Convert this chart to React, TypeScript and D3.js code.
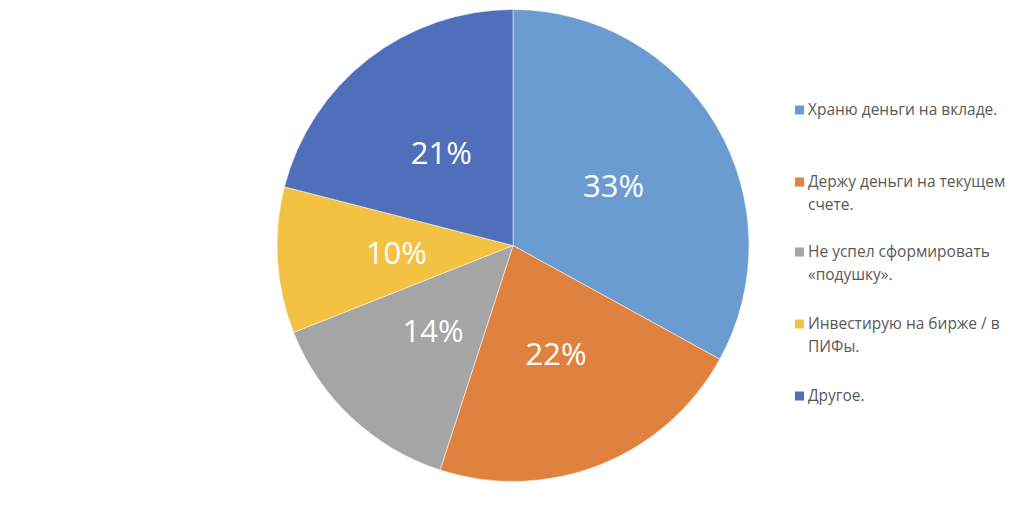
import React from "react";
import * as d3 from "d3";

const categories = [
  "Храню деньги на вкладе.",
  "Держу деньги на текущем счете.",
  "Не успел сформировать «подушку».",
  "Инвестирую на бирже / в ПИФы.",
  "Другое.",
];
const values = [33, 22, 14, 10, 21];
const colors = ["#6A9BD1", "#E0823F", "#A5A5A5", "#F3C242", "#4F6FBB"];
const legendLines = [
  ["Храню деньги на вкладе."],
  ["Держу деньги на текущем", "счете."],
  ["Не успел сформировать", "«подушку»."],
  ["Инвестирую на бирже / в", "ПИФы."],
  ["Другое."],
];

export default function App() {
  const W = 1024, H = 522;
  const cx = 513, cy = 245.5, R = 236;
  const pie = d3.pie<number>().sort(null).value((d) => d)(values);
  const arc = d3.arc<d3.PieArcDatum<number>>().innerRadius(0).outerRadius(R);
  const labelArc = d3.arc<d3.PieArcDatum<number>>().innerRadius(R * 0.495).outerRadius(R * 0.495);
  const legendY = [110, 182, 252, 324, 396];
  const font = "'Open Sans', sans-serif";
  return (
    <svg width={W} height={H} style={{ position: "absolute", left: 0, top: 0, background: "#fff" }}>
      <g transform={`translate(${cx},${cy})`}>
        {pie.map((p, i) => (
          <path key={i} d={arc(p) || ""} fill={colors[i]} stroke="#fff" strokeWidth={0.5} />
        ))}
        {pie.map((p, i) => {
          const [x, y] = labelArc.centroid(p);
          return (
            <text key={i} x={x} y={y} dy="0.35em" textAnchor="middle" fill="#fff"
              fontFamily={font} fontSize={31}>
              {values[i]}%
            </text>
          );
        })}
      </g>
      {categories.map((c, i) => (
        <g key={c} transform={`translate(795,${legendY[i]})`}>
          <rect x={0} y={-4.5} width={9} height={9} fill={colors[i]} />
          {legendLines[i].map((l, j) => (
            <text key={j} x={13} y={j * 23} dy="0.35em" fill="#595959" fontFamily={font} fontSize={15.5}>
              {l}
            </text>
          ))}
        </g>
      ))}
    </svg>
  );
}
